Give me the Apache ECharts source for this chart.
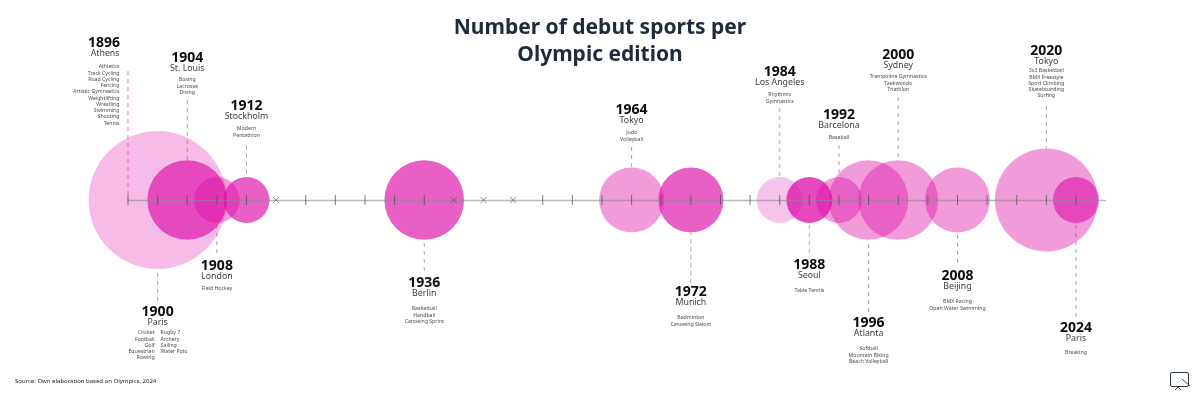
<!DOCTYPE html>
<html><head><meta charset="utf-8">
<style>html,body{margin:0;padding:0;background:#fff}#c{width:1200px;height:400px}</style>
<script src="https://cdn.jsdelivr.net/npm/echarts@6/dist/echarts.min.js"></script>
</head><body><div id="c"></div>
<script>
// ---- data ----
const years = [1896,1900,1904,1908,1912,1936,1964,1972,1984,1988,1992,1996,2000,2008,2020,2024];
const cities = ['Athens','Paris','St. Louis','London','Stockholm','Berlin','Tokyo','Munich','Los Angeles','Seoul','Barcelona','Atlanta','Sydney','Beijing','Tokyo','Paris'];
const sports = [
 ['Athletics','Track Cycling','Road Cycling','Fencing','Artistic Gymnastics','Weightlifting','Wrestling','Swimming','Shooting','Tennis'],
 ['Cricket','Football','Golf','Equestrian','Rowing','Rugby 7','Archery','Sailing','Water Polo'],
 ['Boxing','Lacrosse','Diving'],
 ['Field Hockey'],
 ['Modern','Pentathlon'],
 ['Basketball','Handball','Canoeing Sprint'],
 ['Judo','Volleyball'],
 ['Badminton','Canoeing Slalom'],
 ['Rhythmic','Gymnastics'],
 ['Table Tennis'],
 ['Baseball'],
 ['Softball','Mountain Biking','Beach Volleyball'],
 ['Trampoline Gymnastics','Taekwondo','Triathlon'],
 ['BMX Racing','Open Water Swimming'],
 ['3x3 Basketball','BMX Freestyle','Sport Climbing','Skateboarding','Surfing'],
 ['Breaking']
];
const bubbleCounts = [0,9,3,1,1,3,2,2,1,1,1,3,3,2,5,1];
const bubbleShades = [0,0.28,0.67,0.42,0.67,0.67,0.42,0.67,0.25,0.76,0.42,0.42,0.42,0.42,0.42,0.6];
const cancelledYears = [1916,1940,1944,1948];
const plainTickYears = [1896,1900,1904,1908,1912,1920,1924,1928,1932,1936,1952,1956,1960,1964,1968,1972,1976,1980,1984,1988,1992,1996,2000,2004,2008,2012,2016,2020,2024];

// ---- label layout, in px above (+) or below (-) the axis ----
const yearLabelY = [157,-112,142,-66,94,-83,90,-92,128,-65,85,-123,145,-76,149,-128];
const leaderFar  = [129,-101,100,-53,55,-71,53,-83,92,-53,55,-112,103,-63,94,-117];
const leaderNear = [0,-70,40,-23,23,-40,33,-33,23,-23,23,-40,40,-33,52,-23];
const sportsGap  = [14,11,12,13,13,16,13,16,13,16,13,16,12,16,10,15];

const RADIUS_UNIT = 23;
const INK = '#4a4a52';
const SMALL = '5.2px "Noto Sans"';

const bubbleData = years.map((y,i)=>({value:[y,0,bubbleCounts[i]],itemStyle:{opacity:bubbleShades[i]}})).filter(d=>d.value[2]>0);

function labelItem(params, api){
  const i = params.dataIndex, yr = years[i];
  const pt = api.coord([yr, 0]), cx = pt[0];
  const ky = api.coord([yr, yearLabelY[i]])[1];
  const c1 = api.coord([yr, leaderNear[i]])[1], c2 = api.coord([yr, leaderFar[i]])[1];
  const kids = [];
  kids.push({type:'line',shape:{x1:cx,y1:c2,x2:cx,y2:c1},
    style:{stroke:i===0?'#e87dce':'#a8a8ac',lineWidth:1,lineDash:[4,4]}});
  let ax = cx, align='center';
  if(i===0){ax = cx-8.5;align='right';}
  const yearX = i===0 ? cx-24 : cx;
  kids.push({type:'text',style:{x:yearX,y:ky,text:String(yr),align:'center',verticalAlign:'middle',
    font:'700 14px "Noto Sans"',fill:'#0c0c10'}});
  kids.push({type:'text',style:{x:ax,y:ky+10,text:cities[i],align,verticalAlign:'middle',
    font:'400 8.8px "Noto Sans"',fill:'#3c3c44'}});
  const startY = ky+10+sportsGap[i], step=6.25;
  const list = sports[i];
  if(i===1){
    list.slice(0,5).forEach((s,k)=>kids.push({type:'text',style:{x:cx-3,y:startY+k*step,text:s,align:'right',verticalAlign:'middle',font:SMALL,fill:INK}}));
    list.slice(5).forEach((s,k)=>kids.push({type:'text',style:{x:cx+3,y:startY+k*step,text:s,align:'left',verticalAlign:'middle',font:SMALL,fill:INK}}));
  } else {
    list.forEach((s,k)=>kids.push({type:'text',style:{x:ax,y:startY+k*step,text:s,align,verticalAlign:'middle',font:SMALL,fill:INK}}));
  }
  return {type:'group',children:kids};
}

const chart = echarts.init(document.getElementById('c'),null,{renderer:'canvas'});
chart.setOption({
  animation:false,
  backgroundColor:'#ffffff',
  title:{text:'Number of debut sports per\nOlympic edition',left:595,top:10,textAlign:'center',
    textStyle:{fontFamily:'Noto Sans',fontWeight:700,fontSize:21,lineHeight:27,color:'#1d2b3a'}},
  grid:{left:128,top:0,width:977.6,height:400},
  xAxis:{type:'value',min:1896,max:2028,interval:4,
    axisLine:{show:true,onZero:true,lineStyle:{color:'#8a8a90',width:1.3,opacity:0.6}},
    axisTick:{show:false},axisLabel:{show:false},splitLine:{show:false},z:5},
  yAxis:{type:'value',min:-200,max:200,show:false},
  series:[
    {type:'custom',name:'labels',renderItem:labelItem,data:years.map(y=>[y,0]),z:1,silent:true,clip:false},
    {type:'scatter',name:'bubbles',data:bubbleData,z:2,silent:true,
      symbolSize:v=>2*RADIUS_UNIT*Math.sqrt(v[2]),
      itemStyle:{color:'#dd10a8'}},
    {type:'scatter',name:'ticks',data:plainTickYears.map(y=>[y,0]),z:6,silent:true,
      symbol:'rect',symbolSize:[1,10],itemStyle:{color:'#55505a',opacity:0.75}},
    {type:'scatter',name:'cancelled',data:cancelledYears.map(y=>[y,0]),z:6,silent:true,
      symbol:'path://M0 0L10 10M0 10L10 0',symbolSize:6,
      itemStyle:{color:'rgba(0,0,0,0)',borderColor:'#55505a',borderWidth:0.8}}
  ],
  graphic:[
    {type:'text',left:15,top:378,style:{text:'Source: Own elaboration based on Olympics, 2024',font:'6px "Noto Sans"',fill:'#222'}},
    {type:'group',left:1168,top:370,children:[
      {type:'rect',shape:{x:0.5,y:0.5,width:18,height:14,r:1.5},style:{fill:'none',stroke:'#2f3b46',lineWidth:1}},
      {type:'polyline',shape:{points:[[12,7],[20,14]]},style:{stroke:'#2f3b46',lineWidth:1,fill:'none'}},
      {type:'polyline',shape:{points:[[5,18],[8,15],[11,18]]},style:{stroke:'#2f3b46',lineWidth:1,fill:'none'}}
    ]}
  ]
});
</script></body></html>
